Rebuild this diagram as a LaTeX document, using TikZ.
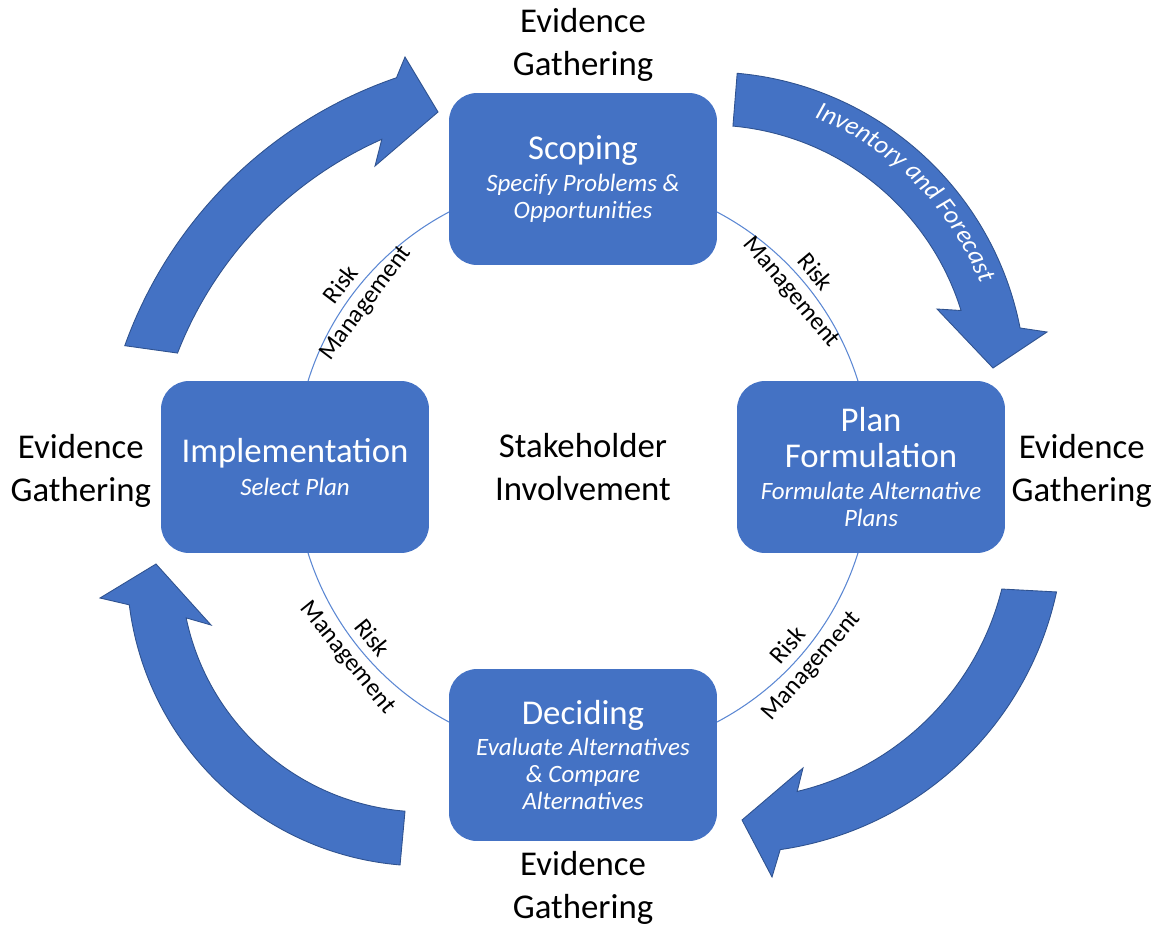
\documentclass[tikz,border=0pt]{standalone}
\usepackage{fontspec}
\setmainfont{Carlito}
\usetikzlibrary{
    positioning,      % For placing nodes relative to each other
    calc,             % For points on the arcs
    decorations.text  % For the caption that follows the arrow
}
\definecolor{BoxBlue}{HTML}{4472C4}
\definecolor{EdgeBlue}{HTML}{2F528F}
\definecolor{RingBlue}{HTML}{5B87D3}

\newcommand{\headsize}{\fontsize{19.8pt}{24.4pt}\selectfont}
\newcommand{\notesize}{\fontsize{14.2pt}{15.4pt}\selectfont\itshape}
\newcommand{\risksize}{\fontsize{14.2pt}{17pt}\selectfont}

\begin{document}
\begin{tikzpicture}[
    % One unit is one pixel of the original picture, y runs downwards
    x=0.02cm, y=-0.02cm,
    font=\headsize,
]
    % --- Define TikZ styles for diagram elements ---
    \tikzset{
        % Style for the four stage blocks
        stage/.style={
            shape=rectangle,
            rounded corners=0.56cm,
            fill=BoxBlue,
            text=white,
            align=center,
            minimum width=5.36cm,
            minimum height=3.44cm,
            font=\notesize,
        },
        % Style for the black labels round the cycle
        outside/.style={align=center, font=\headsize},
        % Style for the small tilted labels on the ring
        risk/.style={align=center, font=\risksize, inner sep=0pt},
        % Thin ring through the stages
        ring/.style={draw=RingBlue, line width=0.6pt},
        % Broad curved block arrows
        bigarrow/.style={fill=BoxBlue, draw=EdgeBlue, line width=0.5pt}
    }

    \useasboundingbox (0,0) rectangle (1158,926);

    % 1. Hub of the cycle and the ring
    \coordinate (hub) at (583,467);
    \draw[ring] (hub) circle[radius=288];

    % 2. The four stages on the ring
    \node[stage] (scoping) at ($(hub)+(0,-288)$)
        {{\headsize\upshape Scoping}\\[3pt] Specify Problems \&\\ Opportunities};
    \node[stage] (plan) at ($(hub)+(288,0)$)
        {{\headsize\upshape Plan}\\[5pt]{\headsize\upshape Formulation}\\[3pt] Formulate Alternative\\ Plans};
    \node[stage] (deciding) at ($(hub)+(0,288)$)
        {{\headsize\upshape Deciding}\\[2pt] Evaluate Alternatives\\ \& Compare\\ Alternatives};
    \node[stage] (implement) at ($(hub)+(-288,0)$)
        {{\headsize\upshape Implementation}\\[3pt] Select Plan};

    % 3. Labels round the cycle
    \node[outside] (center) at (hub) {Stakeholder\\Involvement};
    \node[outside, above=3pt of scoping] (evtop) {Evidence\\Gathering};
    \node[outside, right=0pt of plan, yshift=-2pt] (evright) {Evidence\\Gathering};
    \node[outside, below=2pt of deciding] (evbottom) {Evidence\\Gathering};
    \node[outside, left=2pt of implement, yshift=-2pt] (evleft) {Evidence\\Gathering};

    % 4. Risk labels sitting on the ring
    \node[risk, rotate=53] (risktl) at ($(hub)+(-143:287)$) {Risk\\Management};
    \node[risk, rotate=-50] (risktr) at ($(hub)+(-40:287)$) {Risk\\Management};
    \node[risk, rotate=49] (riskbr) at ($(hub)+(41:288)$) {Risk\\Management};
    \node[risk, rotate=-51] (riskbl) at ($(hub)+(141:288)$) {Risk\\Management};

    % 5. Curved block arrows between the stages
    \coordinate (tlc) at (539,494);
    \coordinate (trc) at (709,389);
    \coordinate (brc) at (733,522);
    \coordinate (blc) at (425,568);

    % top left: Implementation -> Scoping
    \filldraw[bigarrow] (tlc) ++(-160.3:440) arc[start angle=-160.3, end angle=-108.9, radius=440]
        -- (405,57) -- (438,112) -- (375,166)
        -- ($(tlc)+(-113.9:388)$) arc[start angle=-113.9, end angle=-158.7, radius=388] -- cycle;
    % top right: Scoping -> Plan Formulation
    \filldraw[bigarrow] (trc) ++(-84.9:317) arc[start angle=-84.9, end angle=-11.1, radius=317]
        -- (1047,332) -- (993,368) -- (937,309)
        -- ($(trc)+(-17.3:264)$) arc[start angle=-17.3, end angle=-84.8, radius=264] -- cycle;
    % bottom right: Plan Formulation -> Deciding
    \filldraw[bigarrow] (brc) ++(12.2:331) arc[start angle=12.2, end angle=81.8, radius=331]
        -- (772,877) -- (742,820) -- (803,768)
        -- ($(brc)+(76.6:277)$) arc[start angle=76.6, end angle=14, radius=277] -- cycle;
    % bottom left: Deciding -> Implementation
    \filldraw[bigarrow] (blc) ++(94.8:298) arc[start angle=94.8, end angle=172.9, radius=298]
        -- (100,598) -- (156,564) -- (211,625)
        -- ($(blc)+(168.2:244)$) arc[start angle=168.2, end angle=94.7, radius=244] -- cycle;

    % 6. Caption along the top right arrow
    \path[decorate, decoration={text along path, text align=center, text color=white,
        text={|\fontsize{14.8pt}{17pt}\selectfont\itshape|Inventory and Forecast}}]
        (trc) ++(-80:291) arc[start angle=-80, end angle=-10, radius=291];

\end{tikzpicture}
\end{document}
